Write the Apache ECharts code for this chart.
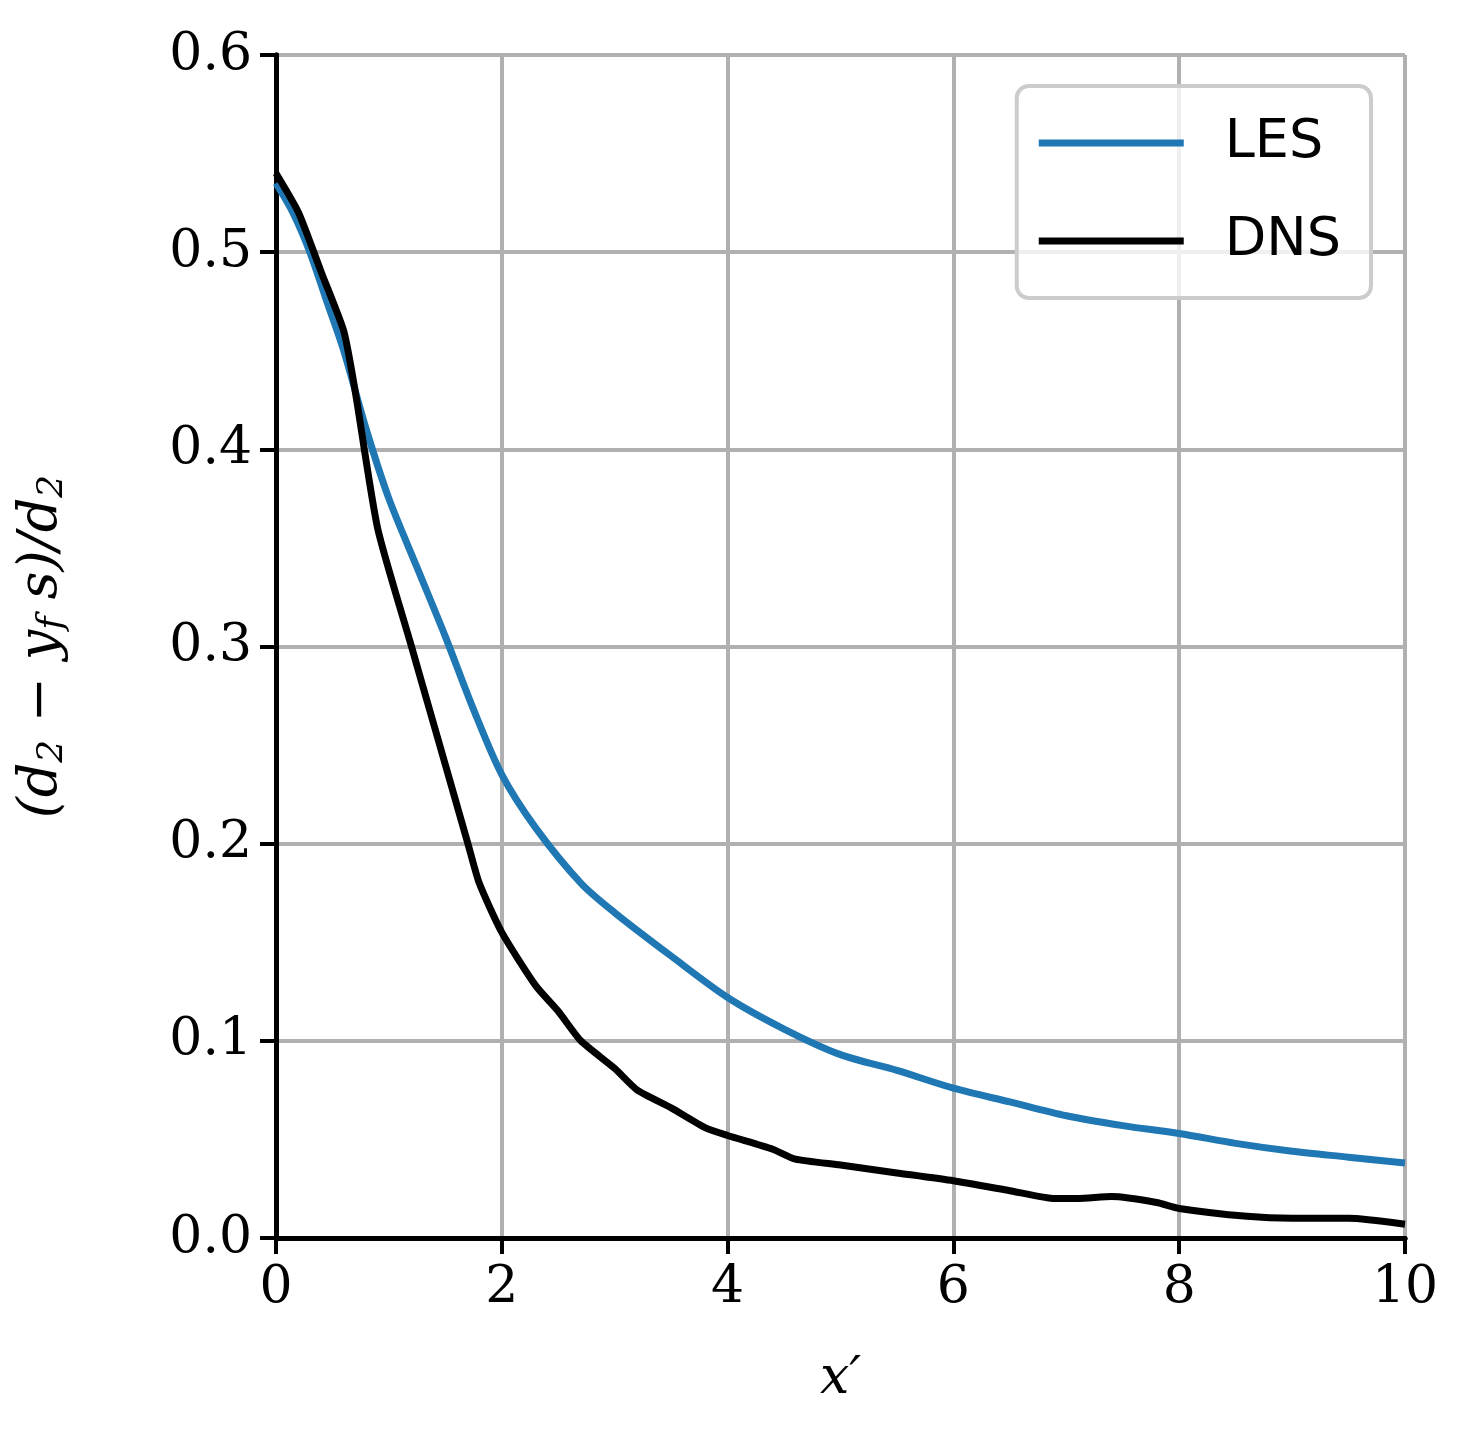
<!DOCTYPE html>
<html><head><meta charset="utf-8">
<script src="https://cdn.jsdelivr.net/npm/echarts@6/dist/echarts.min.js"></script>
<style>html,body{margin:0;padding:0;background:#fff}#c{width:1459px;height:1455px}</style>
</head><body><div id="c"></div>
<script>
const lesX = [0,0.15,0.3,0.45,0.6,0.8,1,1.25,1.5,1.75,2,2.3,2.7,3,3.5,4,4.5,5,5.5,6,6.5,7,7.5,8,8.5,9,9.5,10];
const lesY = [0.535,0.52,0.5,0.475,0.45,0.41,0.375,0.34,0.305,0.268,0.235,0.208,0.18,0.165,0.143,0.122,0.106,0.093,0.085,0.076,0.069,0.062,0.057,0.053,0.048,0.044,0.041,0.038];
const dnsX = [0,0.2,0.4,0.6,0.7,0.9,1.2,1.4,1.7,1.8,2,2.3,2.5,2.7,3,3.2,3.5,3.8,4,4.4,4.6,5,5.5,6,6.5,6.9,7.1,7.4,7.8,8,8.6,9,9.5,10];
const dnsY = [0.54,0.52,0.49,0.46,0.43,0.36,0.30,0.26,0.2,0.18,0.155,0.128,0.115,0.1,0.086,0.075,0.066,0.056,0.052,0.045,0.040,0.037,0.033,0.029,0.024,0.020,0.020,0.021,0.018,0.015,0.011,0.010,0.010,0.007];
const xTicks = [0,2,4,6,8,10];
const yTicks = [0,0.1,0.2,0.3,0.4,0.5,0.6];
const serif = 'DejaVu Serif';
const frame = {show:true,lineStyle:{color:'#000',width:5}};
const c = echarts.init(document.getElementById('c'));
c.setOption({
  animation:false,
  grid:{left:276,right:54,top:55,bottom:217},
  legend:{right:88,top:86,orient:'vertical',itemWidth:145,itemHeight:7,itemGap:44,
    padding:[30,30,30,22],borderColor:'#cccccc',borderWidth:4,borderRadius:12,backgroundColor:'rgba(255,255,255,0.8)',
    icon:'rect',textStyle:{fontSize:54,fontFamily:'DejaVu Sans',color:'#000',padding:[0,0,0,36]},
    data:['LES','DNS']},
  xAxis:[{type:'value',min:0,max:10,interval:2,
    name:'x′',nameLocation:'middle',nameGap:115,nameTextStyle:{fontSize:52,fontFamily:serif,fontStyle:'italic',color:'#000'},
    axisLine:frame,axisTick:{length:16,lineStyle:{width:4,color:'#000'}},
    axisLabel:{fontSize:52,fontFamily:serif,color:'#000',margin:24},
    splitLine:{lineStyle:{color:'#b0b0b0',width:4}}},
    {type:'value',position:'top',min:0,max:10,axisLine:frame,axisTick:{show:false},axisLabel:{show:false},splitLine:{show:false}}],
  yAxis:[{type:'value',min:0,max:0.6,interval:0.1,
    name:'{i|(d}{s|2}{i| − y}{s|f}{i| s)/d}{s|2}',nameLocation:'middle',nameGap:205,nameRotate:90,
    nameTextStyle:{color:'#000',rich:{i:{fontSize:54,fontFamily:serif,fontStyle:'italic'},s:{fontSize:36,fontFamily:serif,fontStyle:'italic',padding:[22,0,0,0]}}},
    axisLine:frame,axisTick:{length:16,lineStyle:{width:4,color:'#000'}},
    axisLabel:{fontSize:52,fontFamily:serif,color:'#000',margin:24,formatter:v=>v.toFixed(1)},
    splitLine:{lineStyle:{color:'#b0b0b0',width:4}}},
    {type:'value',position:'right',min:0,max:0.6,axisLine:frame,axisTick:{show:false},axisLabel:{show:false},splitLine:{show:false}}],
  series:[
    {name:'LES',type:'line',showSymbol:false,smooth:0.3,data:lesX.map((x,i)=>[x,lesY[i]]),lineStyle:{color:'#1f77b4',width:7},itemStyle:{color:'#1f77b4'}},
    {name:'DNS',type:'line',showSymbol:false,smooth:0.2,data:dnsX.map((x,i)=>[x,dnsY[i]]),lineStyle:{color:'#000',width:7},itemStyle:{color:'#000'}}
  ]
});
</script></body></html>
